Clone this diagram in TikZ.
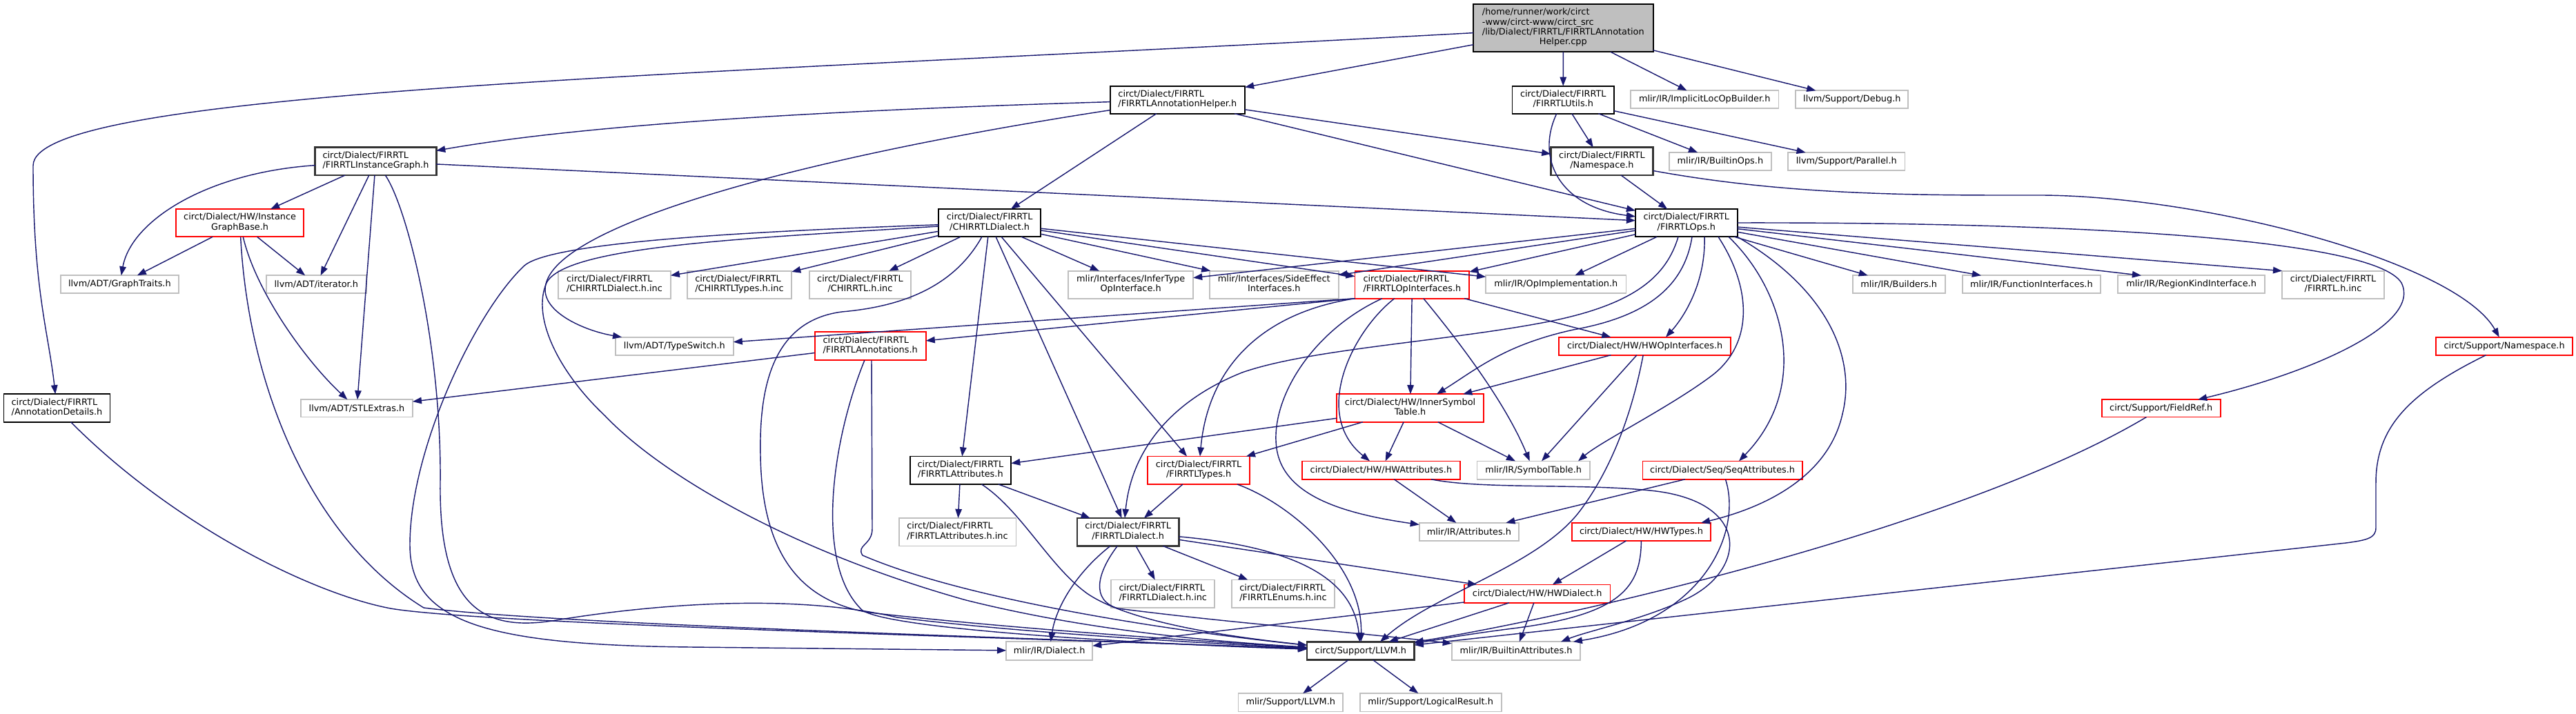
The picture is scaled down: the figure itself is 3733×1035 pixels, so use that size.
\documentclass[tikz,border=0pt]{standalone}
\usepackage{fontspec}
\setmainfont{DejaVu Sans}
\usetikzlibrary{arrows.meta}
\definecolor{edgeblue}{HTML}{191970}
\definecolor{lgray}{HTML}{BFBFBF}
\newcommand{\two}[2]{\begin{tabular}{@{}l@{}}#1\\\multicolumn{1}{@{}c@{}}{#2}\end{tabular}}
\newcommand{\four}[4]{\begin{tabular}{@{}l@{}}#1\\#2\\#3\\\multicolumn{1}{@{}c@{}}{#4}\end{tabular}}
\newcommand{\bx}[7]{\node[#6,minimum width={(#4-#2)*0.42pt},minimum height={(#5-#3)*0.42pt}] (#1) at ({(#2+#4)/2},{(#3+#5)/2}) {#7};}
\tikzset{
 box/.style={rectangle,inner sep=0pt,outer sep=0pt,fill=white,font=\fontsize{5.4pt}{6pt}\selectfont},
 blk/.style={box,draw=black,line width=0.75pt},
 thk/.style={box,draw=black!80,line width=1.1pt},
 redb/.style={box,draw=red,line width=0.75pt},
 grb/.style={box,draw=lgray,line width=0.75pt},
 rootb/.style={box,draw=black,fill=lgray,line width=0.75pt},
 dep/.style={draw=edgeblue,line width=0.6pt,-{Triangle[length=5.5pt,width=4pt]}},
}
\begin{document}
\begin{tikzpicture}[x=0.42pt,y=-0.42pt]
\fill[white] (0,0) rectangle (3733,1035);
\useasboundingbox (0,0) rectangle (3733,1035);
% nodes
\bx{root}{2135}{5.7}{2395.6}{75.3}{rootb}{\four{/home/runner/work/circt}{-www/circt-www/circt\_src}{/lib/Dialect/FIRRTL/FIRRTLAnnotation}{Helper.cpp}}
\bx{helper}{1608.7}{124.7}{1804}{164.7}{blk}{\two{circt/Dialect/FIRRTL}{/FIRRTLAnnotationHelper.h}}
\bx{utils}{2191.5}{124.7}{2339}{164.7}{blk}{\two{circt/Dialect/FIRRTL}{/FIRRTLUtils.h}}
\bx{implicit}{2362.9}{131.3}{2577.5}{157.3}{grb}{mlir/IR/ImplicitLocOpBuilder.h}
\bx{debug}{2602.3}{131.3}{2765.3}{157.3}{grb}{llvm/Support/Debug.h}
\bx{instg}{456.8}{213.7}{632.2}{254}{thk}{\two{circt/Dialect/FIRRTL}{/FIRRTLInstanceGraph.h}}
\bx{fns}{2247.3}{213.7}{2395.6}{254}{thk}{\two{circt/Dialect/FIRRTL}{/Namespace.h}}
\bx{builtinops}{2418.7}{221}{2567.1}{246.7}{grb}{mlir/IR/BuiltinOps.h}
\bx{parallel}{2591.1}{221}{2760.5}{246.7}{grb}{llvm/Support/Parallel.h}
\bx{igbase}{255.1}{303}{440.1}{343.3}{redb}{\two{circt/Dialect/HW/Instance}{GraphBase.h}}
\bx{chirrtl}{1360}{303}{1508.3}{343.3}{blk}{\two{circt/Dialect/FIRRTL}{/CHIRRTLDialect.h}}
\bx{ops}{2370}{303}{2517.6}{343.3}{blk}{\two{circt/Dialect/FIRRTL}{/FIRRTLOps.h}}
\bx{graphtraits}{87.7}{399.3}{259.1}{425.3}{grb}{llvm/ADT/GraphTraits.h}
\bx{iterator}{385.8}{399.3}{530.9}{425.3}{grb}{llvm/ADT/iterator.h}
\bx{chdinc}{809.2}{392.7}{971.8}{432.7}{grb}{\two{circt/Dialect/FIRRTL}{/CHIRRTLDialect.h.inc}}
\bx{chtinc}{995.7}{392.7}{1147.2}{432.7}{grb}{\two{circt/Dialect/FIRRTL}{/CHIRRTLTypes.h.inc}}
\bx{chinc}{1172.7}{392.7}{1320.2}{432.7}{grb}{\two{circt/Dialect/FIRRTL}{/CHIRRTL.h.inc}}
\bx{infertype}{1548.2}{392.7}{1729.1}{432.7}{grb}{\two{mlir/Interfaces/InferType}{OpInterface.h}}
\bx{sideeffect}{1753}{392.7}{1939.6}{432.7}{grb}{\two{mlir/Interfaces/SideEffect}{Interfaces.h}}
\bx{opif}{1963.5}{392.7}{2129.3}{432.7}{redb}{\two{circt/Dialect/FIRRTL}{/FIRRTLOpInterfaces.h}}
\bx{opimpl}{2153.2}{399.3}{2356.5}{425.3}{grb}{mlir/IR/OpImplementation.h}
\bx{builders}{2684.6}{399.3}{2818.8}{425.3}{grb}{mlir/IR/Builders.h}
\bx{funcif}{2843.6}{399.3}{3044.2}{425.3}{grb}{mlir/IR/FunctionInterfaces.h}
\bx{regionkind}{3068.9}{399.3}{3282.3}{425.3}{grb}{mlir/IR/RegionKindInterface.h}
\bx{firrtlinc}{3307.1}{392.7}{3454.9}{432.7}{grb}{\two{circt/Dialect/FIRRTL}{/FIRRTL.h.inc}}
\bx{typeswitch}{892}{488.7}{1062.7}{514.7}{grb}{llvm/ADT/TypeSwitch.h}
\bx{annos}{1180.7}{481.3}{1341.7}{522.3}{redb}{\two{circt/Dialect/FIRRTL}{/FIRRTLAnnotations.h}}
\bx{hwopif}{2259.3}{488.7}{2508}{514.7}{redb}{circt/Dialect/HW/HWOpInterfaces.h}
\bx{cns}{3530}{488.7}{3728.2}{514.7}{redb}{circt/Support/Namespace.h}
\bx{anndetails}{5.6}{571.3}{159.4}{611.8}{blk}{\two{circt/Dialect/FIRRTL}{/AnnotationDetails.h}}
\bx{stlextras}{436.1}{579.2}{597.9}{604.6}{grb}{llvm/ADT/STLExtras.h}
\bx{innersym}{1937.2}{571.3}{2150}{611.8}{redb}{\two{circt/Dialect/HW/InnerSymbol}{Table.h}}
\bx{fieldref}{3045.8}{579.2}{3217.6}{604.6}{redb}{circt/Support/FieldRef.h}
\bx{fattrs}{1318.6}{661.5}{1465.2}{702}{blk}{\two{circt/Dialect/FIRRTL}{/FIRRTLAttributes.h}}
\bx{ftypes}{1663}{661.5}{1811.2}{702}{redb}{\two{circt/Dialect/FIRRTL}{/FIRRTLTypes.h}}
\bx{hwattrs}{1887}{668.4}{2115.8}{694.8}{redb}{circt/Dialect/HW/HWAttributes.h}
\bx{symtable}{2140.5}{668.4}{2303.9}{694.8}{grb}{mlir/IR/SymbolTable.h}
\bx{seqattrs}{2380.4}{668.4}{2611.9}{694.8}{redb}{circt/Dialect/Seq/SeqAttributes.h}
\bx{fattrsinc}{1302.6}{751}{1472.4}{791.5}{grb}{\two{circt/Dialect/FIRRTL}{/FIRRTLAttributes.h.inc}}
\bx{fdialect}{1560.9}{751}{1708.4}{791.5}{thk}{\two{circt/Dialect/FIRRTL}{/FIRRTLDialect.h}}
\bx{attrs}{2056.8}{757.9}{2201}{783.9}{grb}{mlir/IR/Attributes.h}
\bx{hwtypes}{2277.6}{757.9}{2479.3}{783.9}{redb}{circt/Dialect/HW/HWTypes.h}
\bx{fdinc}{1610.3}{840.5}{1760.2}{881.3}{grb}{\two{circt/Dialect/FIRRTL}{/FIRRTLDialect.h.inc}}
\bx{feinc}{1784.9}{840.5}{1934}{881.3}{grb}{\two{circt/Dialect/FIRRTL}{/FIRRTLEnums.h.inc}}
\bx{hwdialect}{2122.1}{847.4}{2333.4}{873.8}{redb}{circt/Dialect/HW/HWDialect.h}
\bx{mdialect}{1458.1}{930.3}{1583.2}{956.7}{grb}{mlir/IR/Dialect.h}
\bx{llvm}{1894.1}{930.3}{2049.6}{956.7}{thk}{circt/Support/LLVM.h}
\bx{builtinattrs}{2103.8}{930.3}{2290.3}{956.7}{grb}{mlir/IR/BuiltinAttributes.h}
\bx{mllvm}{1794.5}{1005.1}{1946}{1031.5}{grb}{mlir/Support/LLVM.h}
\bx{logical}{1970.7}{1005.1}{2175.6}{1031.5}{grb}{mlir/Support/LogicalResult.h}
% edges: root
\draw[dep] (root) .. controls (1000,110) and (48,130) .. (48,240) .. controls (48,420) and (70,480) .. (anndetails);
\draw[dep] (root) -- (helper);
\draw[dep] (root) -- (utils);
\draw[dep] (root) -- (implicit);
\draw[dep] (root) -- (debug);
% helper
\draw[dep] (helper) .. controls (1200,160) and (850,180) .. (instg);
\draw[dep] (helper) -- (chirrtl);
\draw[dep] (helper) -- (ops);
\draw[dep] (helper) -- (fns);
\draw[dep] (helper) .. controls (1150,230) and (790,330) .. (790,420) .. controls (790,455) and (850,480) .. (typeswitch);
% utils
\draw[dep] (utils) .. controls (2225,230) and (2260,300) .. (ops);
\draw[dep] (utils) -- (fns);
\draw[dep] (utils) -- (builtinops);
\draw[dep] (utils) -- (parallel);
% firrtl namespace
\draw[dep] (fns) -- (ops);
\draw[dep] (fns) .. controls (2600,285) and (2800,283) .. (2960,283) .. controls (3200,285) and (3560,380) .. (cns);
% instance graph
\draw[dep] (instg) -- (igbase);
\draw[dep] (instg) .. controls (300,250) and (190,320) .. (graphtraits);
\draw[dep] (instg) -- (iterator);
\draw[dep] (instg) -- (stlextras);
\draw[dep] (instg) .. controls (590,300) and (640,500) .. (638,700) .. controls (636,880) and (700,915) .. (800,900) .. controls (950,875) and (1150,860) .. (1300,895) .. controls (1500,920) and (1800,935) .. (llvm);
\draw[dep] (instg) -- (ops);
% instance graph base
\draw[dep] (igbase) -- (graphtraits);
\draw[dep] (igbase) -- (iterator);
\draw[dep] (igbase) .. controls (370,420) and (440,520) .. (stlextras);
\draw[dep] (igbase) .. controls (360,560) and (450,780) .. (614,881) .. controls (800,905) and (1500,925) .. (llvm);
% annotation details
\draw[dep] (anndetails) .. controls (250,760) and (450,860) .. (566,882) .. controls (700,905) and (1500,925) .. (llvm);
% chirrtl
\draw[dep] (chirrtl) -- (chdinc);
\draw[dep] (chirrtl) -- (chtinc);
\draw[dep] (chirrtl) -- (chinc);
\draw[dep] (chirrtl) .. controls (1100,335) and (800,350) .. (760,385) .. controls (690,450) and (594,650) .. (594,790) .. controls (594,900) and (700,935) .. (1000,938) -- (mdialect);
\draw[dep] (chirrtl) .. controls (1100,345) and (820,355) .. (792,410) .. controls (770,460) and (810,540) .. (877,603) .. controls (960,690) and (1150,800) .. (1400,870) .. controls (1600,920) and (1800,932) .. (llvm);
\draw[dep] (chirrtl) .. controls (1380,420) and (1300,445) .. (1220,452) .. controls (1120,465) and (1100,560) .. (1102,660) .. controls (1104,790) and (1150,870) .. (1260,888) .. controls (1500,915) and (1800,933) .. (llvm);
\draw[dep] (chirrtl) -- (fattrs);
\draw[dep] (chirrtl) -- (fdialect);
\draw[dep] (chirrtl) -- (ftypes);
\draw[dep] (chirrtl) -- (infertype);
\draw[dep] (chirrtl) -- (sideeffect);
\draw[dep] (chirrtl) -- (opif);
\draw[dep] (chirrtl) -- (opimpl);
% ops
\draw[dep] (ops) -- (infertype);
\draw[dep] (ops) -- (sideeffect);
\draw[dep] (ops) -- (opif);
\draw[dep] (ops) -- (opimpl);
\draw[dep] (ops) -- (builders);
\draw[dep] (ops) -- (funcif);
\draw[dep] (ops) -- (regionkind.north -| 3103,0);
\draw[dep] (ops) -- (firrtlinc.north west);
\draw[dep] (ops) .. controls (3000,322) and (3440,345) .. (3480,410) .. controls (3510,470) and (3350,540) .. (fieldref);
\draw[dep] (ops.south -| 2470,0) .. controls (2472,410) and (2440,460) .. (hwopif.north -| 2414,0);
\draw[dep] (ops.south -| 2432,0) .. controls (2415,400) and (2370,440) .. (2250,465) .. controls (2100,495) and (1900,505) .. (1800,540) .. controls (1700,580) and (1640,650) .. (fdialect.north -| 1630,0);
\draw[dep] (ops.south -| 2452,0) .. controls (2440,420) and (2380,460) .. (2280,478) .. controls (2180,500) and (2140,535) .. (innersym.north -| 2082,0);
\draw[dep] (ops.south -| 2490,0) .. controls (2540,420) and (2540,500) .. (2480,545) .. controls (2420,590) and (2320,640) .. (symtable.north -| 2287,0);
\draw[dep] (ops.south -| 2505,0) .. controls (2585,420) and (2625,560) .. (seqattrs.north -| 2520,0);
\draw[dep] (ops.south east) .. controls (2650,420) and (2690,520) .. (2670,600) .. controls (2650,690) and (2560,735) .. (hwtypes.north -| 2465,0);
% FIRRTL op interfaces
\draw[dep] (opif.south west) -- (typeswitch);
\draw[dep] (opif.south west) -- (annos);
\draw[dep] (opif.south west) .. controls (1820,455) and (1750,540) .. (ftypes);
\draw[dep] (opif) .. controls (1900,480) and (1840,580) .. (1850,650) .. controls (1860,720) and (1950,745) .. (attrs);
\draw[dep] (opif) .. controls (1960,480) and (1900,600) .. (hwattrs);
\draw[dep] (opif) -- (innersym);
\draw[dep] (opif) .. controls (2110,490) and (2180,580) .. (symtable);
\draw[dep] (opif) -- (hwopif);
% HW op interfaces
\draw[dep] (hwopif) -- (innersym);
\draw[dep] (hwopif) -- (symtable);
\draw[dep] (hwopif) .. controls (2365,600) and (2335,680) .. (2290,740) .. controls (2230,820) and (2080,860) .. (llvm.north -| 2000,0);
% inner symbol table
\draw[dep] (innersym) -- (fattrs);
\draw[dep] (innersym) -- (ftypes);
\draw[dep] (innersym) -- (hwattrs);
\draw[dep] (innersym) -- (symtable);
% HW attributes
\draw[dep] (hwattrs) -- (attrs);
\draw[dep] (hwattrs.south -| 2074,0) .. controls (2150,710) and (2300,700) .. (2400,712) .. controls (2540,730) and (2530,830) .. (2440,870) .. controls (2380,898) and (2300,915) .. (builtinattrs.north -| 2262,0);
% Seq attributes
\draw[dep] (seqattrs) -- (attrs);
\draw[dep] (seqattrs) .. controls (2525,770) and (2470,900) .. (builtinattrs);
% HW types
\draw[dep] (hwtypes) -- (hwdialect);
\draw[dep] (hwtypes) .. controls (2378,850) and (2350,890) .. (2200,910) .. controls (2120,920) and (2080,928) .. (llvm);
% HW dialect
\draw[dep] (hwdialect) -- (mdialect);
\draw[dep] (hwdialect) -- (llvm);
\draw[dep] (hwdialect) -- (builtinattrs);
% FIRRTL attributes
\draw[dep] (fattrs) -- (fattrsinc);
\draw[dep] (fattrs) -- (fdialect);
\draw[dep] (fattrs) .. controls (1480,740) and (1520,820) .. (1575,860) .. controls (1640,905) and (1800,925) .. (llvm);
% FIRRTL types
\draw[dep] (ftypes) -- (fdialect);
\draw[dep] (ftypes) .. controls (1870,730) and (1975,820) .. (llvm);
% FIRRTL dialect
\draw[dep] (fdialect) -- (fdinc);
\draw[dep] (fdialect) -- (feinc);
\draw[dep] (fdialect) .. controls (1560,830) and (1530,880) .. (mdialect);
\draw[dep] (fdialect) .. controls (1900,795) and (1962,850) .. (llvm);
\draw[dep] (fdialect) -- (hwdialect);
\draw[dep] (fdialect) .. controls (1590,830) and (1580,870) .. (1620,882) .. controls (1800,905) and (1950,915) .. (builtinattrs);
% annotations
\draw[dep] (annos) -- (stlextras);
\draw[dep] (annos) .. controls (1205,640) and (1180,820) .. (1250,885) .. controls (1300,915) and (1700,935) .. (llvm);
\draw[dep] (annos.south -| 1263,0) -- (1264,765) .. controls (1265,790) and (1240,790) .. (1250,805) .. controls (1400,870) and (1700,915) .. (llvm);
% support
\draw[dep] (fieldref) .. controls (2850,760) and (2300,890) .. (llvm);
\draw[dep] (cns) .. controls (3490,570) and (3443,620) .. (3443,700) -- (3443,765) .. controls (3443,780) and (3430,783) .. (3400,787) -- (llvm);
\draw[dep] (llvm) -- (mllvm);
\draw[dep] (llvm) -- (logical);
\end{tikzpicture}
\end{document}
